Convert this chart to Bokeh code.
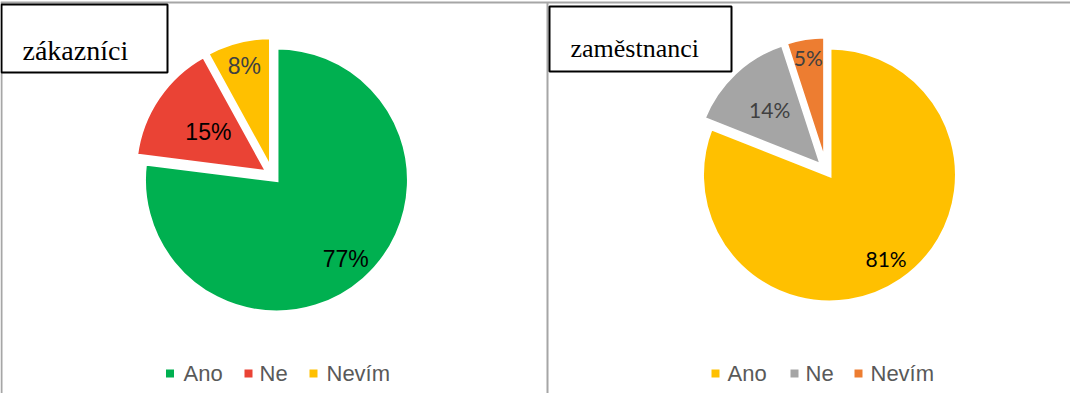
import numpy as np
from bokeh.plotting import figure
from bokeh.models import Range1d
from bokeh.core.properties import value
from bokeh.embed import file_html
from bokeh.resources import INLINE

# ---- data ----
categories = ["Ano", "Ne", "Nevím"]
customers = [77, 15, 8]
employees = [81, 14, 5]
titles = ["zákazníci", "zaměstnanci"]
colors_customers = ["#00B050", "#EA4335", "#FFC000"]
colors_employees = ["#FFC000", "#A5A5A5", "#ED7D31"]

# ---- layout (page pixels -> data units, 1 unit = 1 px) ----
W, H = 1070, 393


def X(px):
    return px - 8


def Y(py):
    return 8 + H - py


p = figure(width=W, height=H, x_range=Range1d(0, W), y_range=Range1d(0, H),
           output_backend="svg", toolbar_location=None, min_border=0)
p.axis.visible = False
p.grid.visible = False
p.outline_line_color = None
p.background_fill_color = "white"

# frame lines
frame_col = "#A6A6A6"
p.segment(x0=[X(8), X(9), X(555)], y0=[Y(10), Y(10), Y(10)],
          x1=[X(1086), X(9), X(555)], y1=[Y(10), Y(409), Y(409)],
          line_color=frame_col, line_width=2)


def pie(values, colors, cx, cy, r, d, factors, lsize, lcolors, lfont):
    vals = np.array(values, dtype=float)
    cum = np.concatenate([[0], np.cumsum(vals)]) / vals.sum() * 2 * np.pi
    for i in range(len(vals)):
        s, e = cum[i], cum[i + 1]
        m = np.pi / 2 - (s + e) / 2
        ox, oy = cx + d * np.cos(m), cy + d * np.sin(m)
        p.wedge(x=[ox], y=[oy], radius=r,
                start_angle=np.pi / 2 - e, end_angle=np.pi / 2 - s,
                direction="anticlock", fill_color=colors[i],
                line_color="white", line_width=4, line_join="miter")
    for i in range(len(vals)):
        s, e = cum[i], cum[i + 1]
        m = np.pi / 2 - (s + e) / 2
        lr = d + factors[i] * r
        p.text(x=[cx + lr * np.cos(m)], y=[cy + lr * np.sin(m)],
               text=[f"{int(values[i])}%"], text_align="center",
               text_baseline="middle", text_font=value(lfont),
               text_font_size=lsize, text_color=lcolors[i])


pie(customers, colors_customers, X(280), Y(183), 132.5, 6, [0.79, 0.54, 0.81],
    "23px", ["#000000", "#000000", "#404040"], "Liberation Sans")
pie(employees, colors_employees, X(833.6), Y(177.5), 127.5, 6, [0.79, 0.60, 0.85],
    "21px", ["#000000", "#404040", "#404040"], "Lato")

# title boxes
p.quad(left=[X(9), X(557)], right=[X(175), X(739)],
       top=[Y(12), Y(14)], bottom=[Y(80), Y(79)],
       fill_color="white", line_color="black", line_width=2)
p.text(x=[X(30)], y=[Y(57.5)], text=[titles[0]], text_font=value("Liberation Serif"),
       text_font_size="28px", text_color="black", text_baseline="middle")
p.text(x=[X(578)], y=[Y(56)], text=[titles[1]], text_font=value("Liberation Serif"),
       text_font_size="26px", text_color="black", text_baseline="middle")


# legends
def legend(colors, sq_x, txt_x):
    p.rect(x=[X(v) for v in sq_x], y=[Y(381)] * 3, width=8, height=8,
           fill_color=colors, line_color=None)
    p.text(x=[X(v) for v in txt_x], y=[Y(380.5)] * 3, text=categories,
           text_font=value("Liberation Sans"), text_font_size="22px",
           text_color="#595959", text_baseline="middle")


legend(colors_customers, [177.5, 256, 321], [191, 267, 334])
legend(colors_employees, [723, 802, 866], [735, 813, 878])

open("out.html", "w").write(file_html(p, INLINE))
